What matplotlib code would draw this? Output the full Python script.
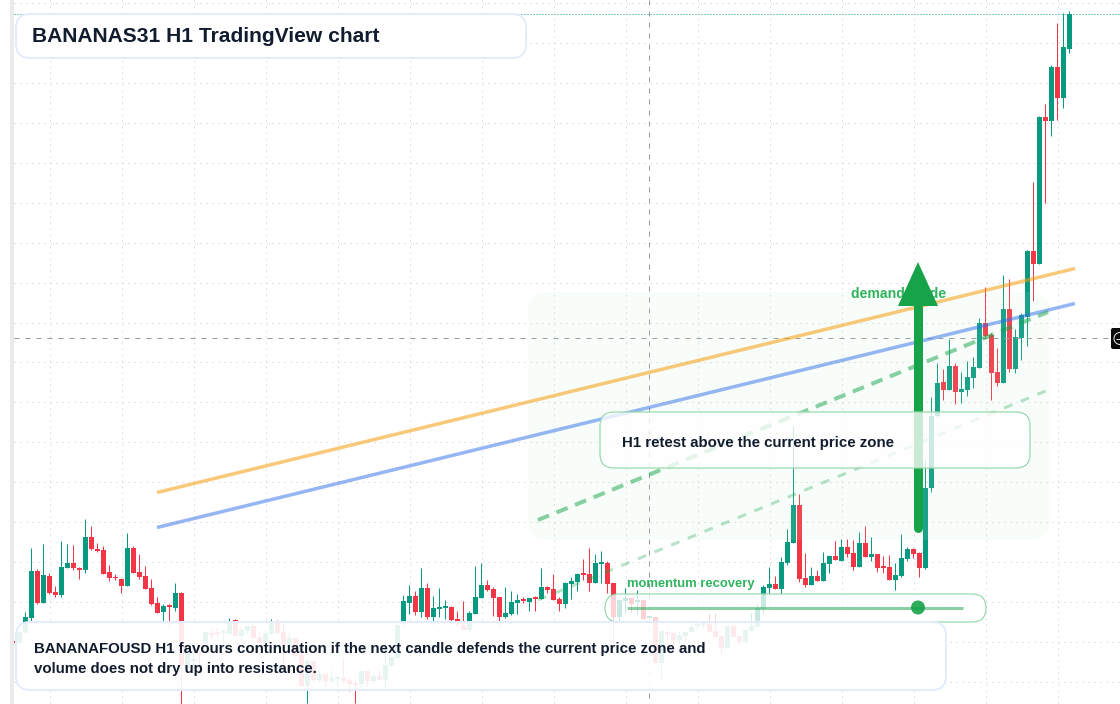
import matplotlib
matplotlib.use("Agg")
import matplotlib.pyplot as plt
from matplotlib.patches import FancyBboxPatch, Rectangle, Circle

plt.rcParams['font.family'] = ['Liberation Sans', 'DejaVu Sans']

# candles in chart units (the y axis runs downward)
opens = [
    641, 643, 633, 618, 571, 603, 576, 592, 595, 568,
    563, 568, 570, 537, 549, 550, 572, 577, 579, 586,
    548, 572, 576, 588, 603, 612, 605, 608, 593, 668,
    661, 653, 643, 633, 632, 633, 634, 620, 636, 631,
    626, 637, 643, 634, 622, 632, 647, 638, 655, 686,
    661, 680, 674, 681, 679, 678, 680, 683, 684, 671,
    681, 676, 680, 666, 658, 622, 603, 596, 612, 588,
    617, 609, 608, 607, 619, 625, 630, 614, 598, 585,
    589, 597, 617, 614, 603, 599, 602, 597, 599, 587,
    589, 599, 604, 584, 582, 573, 574, 583, 564, 563,
    583, 617, 601, 598, 602, 600, 618, 617, 663, 632,
    633, 640, 636, 632, 626, 625, 624, 631, 636, 648,
    626, 636, 642, 631, 627, 609, 588, 584, 589, 563,
    543, 505, 578, 585, 576, 581, 564, 556, 561, 547,
    553, 567, 543, 557, 554, 566, 567, 580, 576, 559,
    549, 553, 568, 488, 416, 382, 390, 366, 392, 390,
    378, 368, 323, 335, 372, 383, 309, 369, 338, 317,
    251, 264, 117, 121, 67, 98, 49,
]
highs = [
    641, 632, 612, 548, 569, 544, 573, 586, 541, 544,
    545, 567, 519, 526, 543, 546, 565, 574, 578, 533,
    546, 554, 566, 579, 597, 604, 604, 583, 592, 653,
    652, 651, 632, 629, 627, 629, 618, 619, 627, 626,
    624, 632, 630, 619, 620, 623, 633, 638, 640, 658,
    660, 670, 674, 670, 675, 658, 677, 679, 671, 671,
    673, 670, 640, 657, 625, 595, 585, 591, 568, 583,
    596, 588, 600, 606, 611, 601, 611, 566, 563, 580,
    587, 597, 587, 591, 594, 597, 598, 596, 568, 586,
    574, 597, 582, 577, 573, 559, 548, 554, 551, 561,
    583, 600, 588, 598, 590, 600, 616, 617, 631, 630,
    631, 631, 630, 622, 622, 622, 613, 613, 636, 626,
    624, 636, 629, 613, 604, 585, 567, 576, 557, 529,
    426, 494, 553, 567, 570, 552, 555, 541, 539, 539,
    540, 532, 526, 537, 554, 556, 555, 563, 534, 547,
    548, 552, 460, 397, 363, 369, 339, 363, 372, 361,
    357, 318, 287, 333, 348, 275, 279, 329, 313, 250,
    182, 116, 104, 65, 23, 13, 11,
]
lows = [
    643, 643, 633, 621, 604, 603, 594, 597, 597, 568,
    570, 579, 573, 550, 552, 574, 581, 580, 593, 586,
    573, 579, 589, 605, 613, 622, 627, 611, 704, 668,
    668, 665, 645, 639, 637, 643, 634, 636, 640, 633,
    638, 643, 643, 634, 633, 664, 653, 657, 686, 703,
    681, 682, 686, 683, 685, 682, 691, 703, 689, 686,
    683, 680, 687, 666, 658, 626, 614, 615, 617, 619,
    625, 617, 619, 621, 626, 630, 633, 614, 598, 591,
    616, 627, 618, 615, 614, 603, 611, 611, 599, 593,
    600, 611, 608, 599, 591, 580, 591, 583, 583, 593,
    643, 621, 613, 612, 615, 619, 620, 663, 678, 647,
    643, 645, 642, 632, 630, 628, 633, 638, 653, 648,
    637, 645, 642, 631, 627, 613, 594, 589, 594, 565,
    543, 582, 587, 585, 581, 581, 573, 560, 561, 557,
    570, 567, 557, 561, 572, 573, 580, 590, 577, 561,
    558, 577, 569, 492, 417, 400, 390, 404, 403, 396,
    388, 368, 337, 400, 386, 383, 372, 373, 360, 346,
    301, 264, 203, 136, 120, 108, 53,
]
closes = [
    643, 632, 617, 571, 603, 575, 593, 595, 567, 563,
    568, 570, 537, 549, 551, 574, 578, 578, 586, 548,
    573, 577, 589, 604, 613, 606, 607, 593, 665, 653,
    659, 655, 632, 635, 634, 631, 621, 636, 630, 626,
    638, 643, 633, 621, 633, 645, 638, 656, 686, 661,
    680, 674, 681, 678, 677, 681, 684, 685, 671, 681,
    676, 680, 665, 657, 625, 601, 596, 612, 588, 617,
    608, 607, 606, 620, 622, 630, 613, 597, 585, 590,
    598, 617, 613, 602, 600, 601, 598, 599, 587, 590,
    600, 604, 583, 581, 574, 575, 583, 563, 562, 584,
    617, 600, 598, 604, 600, 619, 616, 663, 631, 634,
    640, 635, 632, 627, 624, 623, 632, 637, 648, 626,
    637, 642, 630, 626, 608, 587, 584, 589, 562, 542,
    505, 579, 585, 576, 581, 563, 556, 560, 547, 554,
    567, 543, 557, 554, 568, 568, 580, 575, 558, 549,
    554, 568, 488, 416, 383, 390, 366, 392, 389, 377,
    367, 323, 336, 373, 383, 309, 369, 337, 315, 251,
    264, 117, 121, 67, 98, 47, 14,
]

# overlay lines
orange_x = [157, 1075]
orange_y = [492.5, 268.5]
blue_x = [157, 1075]
blue_y = [527.5, 303.5]
dash_x = [538, 1048]
dash_y = [520, 312]
light_dash_x = [538, 1048]
light_dash_y = [600, 390]
last_price = 14
cross_x = 649
cross_y = 338
arrow_x = 918
arrow_tail = 532
arrow_neck = 306
arrow_tip = 262
meter_x = [627, 963]
meter_y = 607.5
meter_dot = 918

title = 'BANANAS31 H1 TradingView chart'
retest_text = 'H1 retest above the current price zone'
bottom_lines = ['BANANAFOUSD H1 favours continuation if the next candle defends the current price zone and',
                'volume does not dry up into resistance.']

GREEN = '#089981'
RED = '#f23645'
PX = 0.72  # one pixel in points at dpi 100

fig = plt.figure(figsize=(11.2, 7.04), dpi=100)
ax = fig.add_axes([0, 0, 1, 1])
ax.set_xlim(0, 1120)
ax.set_ylim(704, 0)
ax.axis('off')

# --- grid ---
grid_dash = (0, (1.5, 4.5))
ax.vlines([49.5 + 72 * k for k in range(15)], 0, 704, color='#d9dbe0', lw=PX,
          linestyles=[grid_dash], zorder=1)
ax.hlines([3.3 + 39.9 * k for k in range(18)], 14, 1120, color='#d9dbe0', lw=PX,
          linestyles=[grid_dash], zorder=1)

# --- candles ---
xs = [13.3 + 6 * i for i in range(len(opens))]
colors = [GREEN if c < o else RED for o, c in zip(opens, closes)]
ax.vlines(xs, highs, lows, colors=colors, lw=PX, zorder=2)
ax.bar(xs, [abs(c - o) for o, c in zip(opens, closes)], bottom=[min(o, c) for o, c in zip(opens, closes)],
       width=5, color=colors, linewidth=0, zorder=2)
ax.add_patch(Rectangle((0, 0), 10, 704, facecolor='white', edgecolor='none', zorder=2.2))
ax.add_patch(Rectangle((10, 0), 4, 704, facecolor='#ebebeb', edgecolor='none', zorder=2.2))

# --- crosshair and last price ---
ax.hlines(cross_y, 14, 1110, color='#9598a1', lw=PX, linestyles=[(0, (5, 6))], zorder=2.5)
ax.vlines(cross_x, 0, 704, color='#9598a1', lw=PX, linestyles=[(0, (5, 6))], zorder=2.5)
ax.hlines(last_price, 14, 1120, color=GREEN, lw=PX, linestyles=[(0, (1, 2))], zorder=2.5)

# --- demand zone ---
ax.add_patch(FancyBboxPatch((548, 312), 482, 208, boxstyle='round,pad=20,rounding_size=20',
                            facecolor='#c4f2d4', edgecolor='none', alpha=0.1, zorder=3))

# --- overlays ---
ax.plot(orange_x, orange_y, color='#f59e0b', alpha=0.55, lw=3.5 * PX, solid_capstyle='butt', zorder=4)
ax.plot(blue_x, blue_y, color='#2f6fe8', alpha=0.5, lw=3.5 * PX, solid_capstyle='butt', zorder=4)
ax.plot(dash_x, dash_y, color='#16a34a', alpha=0.5, lw=4 * PX, linestyle=(0, (3, 2)), zorder=4)
ax.plot(light_dash_x, light_dash_y, color='#16a34a', alpha=0.3, lw=3 * PX, linestyle=(0, (3, 3)), zorder=4)

ax.text(851, 294, 'demand guide', fontsize=14 * PX, fontweight='bold', color='#2fb35d',
        ha='left', va='center', zorder=4.5)
ax.plot([arrow_x, arrow_x], [arrow_tail - 4.5, arrow_neck], color='#16a34a', lw=9 * PX,
        solid_capstyle='round', zorder=5)
ax.fill([arrow_x, arrow_x - 20, arrow_x + 20], [arrow_tip, arrow_neck, arrow_neck], color='#16a34a',
        linewidth=0, zorder=5)

# --- cards ---
def card(x0, y0, x1, y1, edge, face_alpha, radius=14, lw=1.5, z=6):
    r = radius
    ax.add_patch(FancyBboxPatch((x0 + r, y0 + r), x1 - x0 - 2 * r, y1 - y0 - 2 * r,
                                boxstyle=f'round,pad={r},rounding_size={r}',
                                facecolor=(1, 1, 1, face_alpha), edgecolor=edge,
                                lw=lw * PX, zorder=z))

card(600, 412, 1030, 468, '#97d8ad', 0.78, lw=1.2)
ax.text(622, 443, retest_text, fontsize=15 * PX, fontweight='bold', color='#111c2e',
        ha='left', va='center', zorder=7)

card(605, 594, 986, 622, '#97d8ad', 0.78, lw=1.2)
ax.plot(meter_x, [meter_y, meter_y], color='#16a34a', alpha=0.5, lw=3 * PX, solid_capstyle='butt', zorder=7)
ax.add_patch(Circle((meter_dot, meter_y), 7, facecolor='#16a34a', edgecolor='none', alpha=0.9, zorder=7))
ax.text(627, 584, 'momentum recovery', fontsize=13 * PX, fontweight='bold', color='#2fb35d',
        ha='left', va='center', zorder=7)

card(16, 622, 946, 690, '#e4ecfb', 0.9, lw=2, z=8)
ax.text(34, 649.5, bottom_lines[0], fontsize=15.05 * PX, fontweight='bold', color='#111c2e',
        ha='left', va='center', zorder=9)
ax.text(34, 669.5, bottom_lines[1], fontsize=15.05 * PX, fontweight='bold', color='#111c2e',
        ha='left', va='center', zorder=9)

card(16, 14, 526, 58, '#e4ecfb', 0.9, lw=2, z=8)
ax.text(32, 37, title, fontsize=21 * PX, fontweight='bold', color='#111c2e',
        ha='left', va='center', zorder=9)

# --- right edge badge ---
ax.add_patch(FancyBboxPatch((1113, 330), 20, 17, boxstyle='round,pad=2,rounding_size=2',
                            facecolor='#0b0b0b', edgecolor='none', zorder=7))
ax.add_patch(Circle((1120, 338.5), 6, facecolor='none', edgecolor='#e8e8e8', lw=PX, zorder=8))
ax.hlines(338.5, 1116, 1120, color='#e8e8e8', lw=PX, zorder=8)

fig.savefig('out.png', dpi=100)
